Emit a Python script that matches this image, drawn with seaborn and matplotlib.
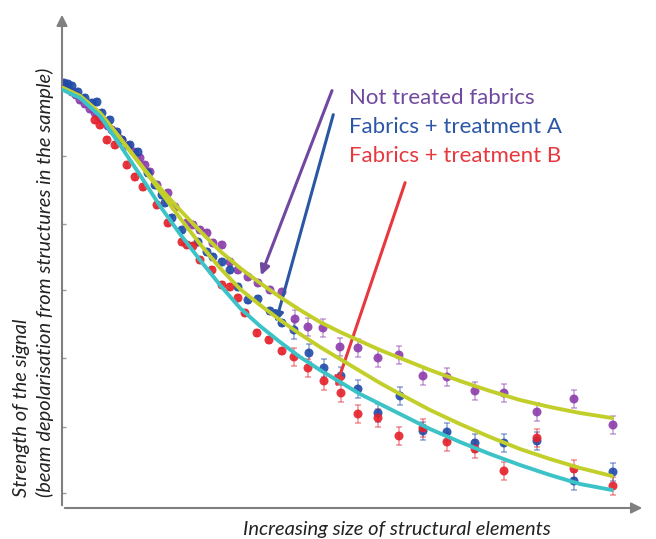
import numpy as np
import pandas as pd
import seaborn as sns
import matplotlib.pyplot as plt

x_not = [3, 6, 10, 14, 18, 23, 28, 33, 38, 42, 46, 50, 55, 60, 66, 72, 78, 83, 88, 95,
         106, 113, 125, 131, 138, 145, 151, 160, 168, 176, 186, 196, 208, 220, 233, 246,
         261, 278, 296, 316, 337, 361, 385, 413, 442, 475, 512, 551]
y_not = [424, 420, 416, 413, 408, 404, 399, 395, 390, 387, 382, 378, 373, 368, 362, 356,
         350, 343, 336, 323, 315, 301, 285, 283, 278, 275, 265, 263, 246, 238, 231, 225,
         218, 216, 189, 181, 180, 161, 160, 150, 153, 132, 131, 117, 115, 96, 109, 83]

x_a = [2, 6, 10, 16, 23, 30, 35, 40, 48, 55, 60, 68, 76, 86, 93, 100, 103, 110, 120,
       136, 145, 151, 160, 168, 176, 186, 196, 208, 220, 232, 247, 262, 279, 296, 316,
       338, 361, 385, 413, 442, 475, 512, 551]
y_a = [425, 424, 422, 416, 410, 405, 406, 395, 388, 376, 368, 363, 356, 335, 323, 313,
       305, 290, 278, 266, 256, 251, 246, 238, 221, 208, 209, 197, 185, 178, 155, 140,
       132, 119, 95, 112, 77, 76, 65, 65, 67, 27, 36]

x_b = [33, 38, 45, 53, 65, 73, 81, 95, 106, 120, 125, 131, 138, 150, 160, 168, 176,
       183, 195, 207, 220, 232, 246, 262, 279, 296, 316, 337, 361, 385, 413, 442, 475,
       512, 551]
y_b = [388, 383, 368, 363, 343, 331, 321, 303, 285, 266, 263, 262, 248, 238, 223, 221,
       210, 195, 175, 168, 157, 151, 140, 127, 115, 94, 90, 72, 80, 66, 59, 37, 70, 39, 22]

# fitted curves
fit_x = [1, 18, 38, 58, 78, 98, 118, 138, 158, 178, 198, 218, 238, 258, 278, 298, 318,
         338, 368, 398, 428, 458, 488, 518, 550]
fit_not = [420, 412, 395, 370, 344, 320, 298, 277, 257, 240, 225, 211, 198, 186, 176,
           167, 158, 150, 138, 127, 117, 108, 101, 95, 90]
fit_a = [420, 412, 395, 370, 344, 317, 290, 264, 240, 219, 203, 188, 174, 161, 149,
         137, 125, 114, 98, 84, 71, 59, 49, 40, 32]
fit_b = [418, 410, 392, 363, 333, 302, 274, 248, 223, 200, 182, 166, 151, 138, 126,
         114, 104, 94, 79, 66, 54, 43, 33, 24, 18]

yticks = [15, 81, 150, 218, 284, 352]

labels = ["Not treated fabrics", "Fabrics + treatment A", "Fabrics + treatment B"]
dot_colors = ["#8c3cab", "#1f4aa8", "#e6202a"]
text_colors = ["#7048a0", "#2b56a6", "#e8383d"]
yellow = "#c2cf2a"
cyan = "#3cc3c8"

sns.set_theme(style="white")
plt.rcParams['font.family'] = ['Lato', 'DejaVu Sans']

fig = plt.figure(figsize=(6.56, 5.39), dpi=100)
ax = fig.add_axes([62 / 656, 31 / 539, 583 / 656, 496 / 539])

series = [(x_not, y_not), (x_a, y_a), (x_b, y_b)]
for (xs, ys), c in zip(series, dot_colors):
    xs = np.array(xs)
    err = np.where(xs > 230, 9, 3)
    ax.errorbar(xs, ys, yerr=err, fmt='none', ecolor=c, alpha=0.45,
                elinewidth=1.2, capsize=2.5, capthick=1.2, zorder=2)
    df = pd.DataFrame({"x": xs, "y": ys})
    sns.scatterplot(data=df, x="x", y="y", color=c, s=42, edgecolor="none",
                    alpha=0.9, ax=ax, zorder=3)

for fy, c in [(fit_not, yellow), (fit_a, yellow), (fit_b, cyan)]:
    curve = pd.DataFrame({"x": fit_x, "y": fy})
    sns.lineplot(data=curve, x="x", y="y", color=c, linewidth=2.8, sort=False,
                 ax=ax, zorder=4)

ax.set_xlim(0, 583)
ax.set_ylim(0, 496)
for s in ax.spines.values():
    s.set_visible(False)
ax.set_xticks([])
ax.set_yticks(yticks)
ax.set_yticklabels([])
ax.tick_params(axis='y', direction='in', length=3, width=1, color='#9a9a9a', left=True)
ax.set_xlabel("")
ax.set_ylabel("")

# axis arrows
arrow_kw = dict(arrowstyle='-|>', color='#7f7f7f', lw=1.5, mutation_scale=16)
ax.annotate("", xy=(0, 1.0), xytext=(0, 0), xycoords='axes fraction',
            arrowprops=arrow_kw, annotation_clip=False)
ax.annotate("", xy=(1.0, 0), xytext=(0, 0), xycoords='axes fraction',
            arrowprops=arrow_kw, annotation_clip=False)

# legend text and pointer arrows
text_y = [410, 381, 352]
for lab, c, ty in zip(labels, text_colors, text_y):
    ax.text(287, ty, lab, color=c, fontsize=16, va='center', ha='left')

pointers = [((271, 420), (198, 230)), ((272, 396), (213, 183)), ((344, 328), (273, 118))]
for (start, end), c in zip(pointers, text_colors):
    ax.annotate("", xy=end, xytext=start,
                arrowprops=dict(arrowstyle='-|>', color=c, lw=2.2, mutation_scale=14))

fig.text(22 / 656, 1 - 497 / 539, "Strength of the signal", rotation=90,
         style='italic', fontsize=14.5, color='#222222', ha='center', va='bottom')
fig.text(45 / 656, 1 - 497 / 539, "(beam depolarisation from structures in the sample)",
         rotation=90, style='italic', fontsize=14.5, color='#222222', ha='center', va='bottom')
fig.text(397 / 656, 1 - 530 / 539, "Increasing size of structural elements",
         style='italic', fontsize=14.5, color='#222222', ha='center', va='center')

fig.savefig("out.png", dpi=100)
